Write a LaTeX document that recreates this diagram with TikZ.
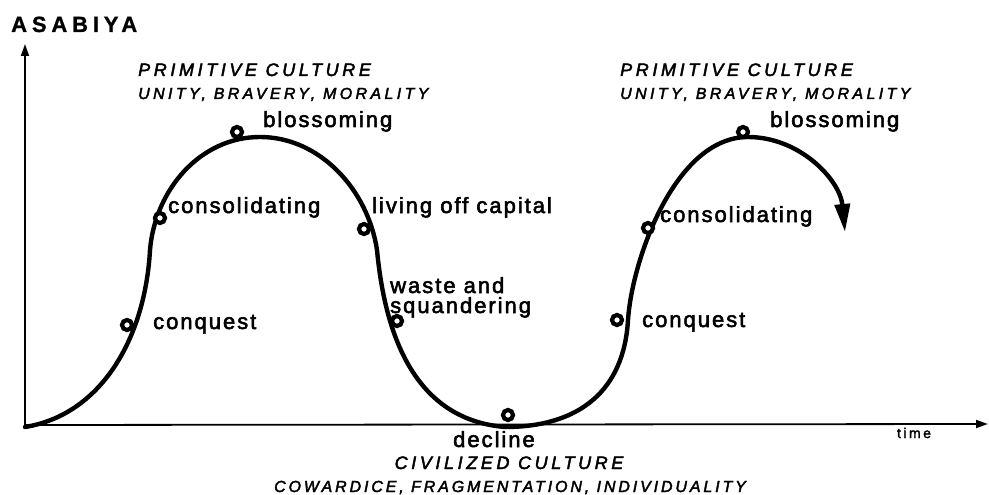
\documentclass[tikz,border=0pt]{standalone}
\usepackage{fontspec}
\setmainfont{Liberation Sans}
\newfontfamily\labf[LetterSpace=9,FakeBold=2.5]{Liberation Sans}
\newfontfamily\capf[LetterSpace=20,FakeBold=2.5]{Liberation Sans}
\newfontfamily\subf[LetterSpace=21,FakeBold=2.5]{Liberation Sans}
\newfontfamily\cowf[LetterSpace=18,FakeBold=2.5]{Liberation Sans}
\newfontfamily\titf[LetterSpace=22,FakeBold=1]{Liberation Sans}
\newfontfamily\timf[LetterSpace=18,FakeBold=2]{Liberation Sans}
\usetikzlibrary{arrows.meta}
\begin{document}
\begin{tikzpicture}[x=1pt,y=-1pt,
  lab/.style={anchor=base west, inner sep=0pt, font=\labf\fontsize{22}{25}\selectfont},
  labc/.style={anchor=base, inner sep=0pt, font=\labf\fontsize{22}{25}\selectfont},
  head/.style={anchor=base west, inner sep=0pt, font=\capf\itshape\fontsize{18}{21}\selectfont},
  headc/.style={anchor=base, inner sep=0pt, font=\capf\itshape\fontsize{18}{21}\selectfont},
  sub/.style={anchor=base west, inner sep=0pt, font=\subf\itshape\fontsize{16}{19}\selectfont},
  cow/.style={anchor=base, inner sep=0pt, font=\cowf\itshape\fontsize{16}{19}\selectfont},
  ring/.style={circle, draw, line width=4.2pt, fill=white, minimum size=10pt, inner sep=0pt},
  axis/.style={line width=1.8pt, -{Triangle[length=12pt,width=8pt]}},
  wave/.style={line width=4.4pt, line cap=round}
]
\useasboundingbox (0,0) rectangle (989,495);

% axes
\coordinate (O) at (25,425);
\coordinate (Ytop) at (25,44);
\coordinate (Xend) at (988,424);
\draw[axis] (O) -- (Ytop);
\draw[axis] (O) -- (Xend);

% curve
\coordinate (s0) at (25,427);
\coordinate (s1) at (150,250);
\coordinate (s2) at (260,137);
\coordinate (s3) at (377,250);
\coordinate (s4) at (505,427);
\coordinate (s5) at (628,320);
\coordinate (s6) at (748,137);
\coordinate (s7) at (845,232);
\draw[wave] (s0) .. controls (100,415) and (145,340) .. (s1)
  .. controls (155,190) and (200,137) .. (s2)
  .. controls (320,137) and (368,190) .. (s3)
  .. controls (386,345) and (420,420) .. (s4)
  .. controls (580,427) and (624,390) .. (s5)
  .. controls (632,260) and (675,137) .. (s6);
\draw[wave, -{Triangle[length=28pt,width=15pt]}] (s6) .. controls (800,137) and (840,180) .. (s7);

% circles
\node[ring] (c1) at (127,325) {};
\node[ring] (c2) at (160,218) {};
\node[ring] (c3) at (237,132) {};
\node[ring] (c4) at (364,229) {};
\node[ring] (c5) at (397,321) {};
\node[ring] (c6) at (508,415) {};
\node[ring] (c7) at (617,320) {};
\node[ring] (c8) at (648,228) {};
\node[ring] (c9) at (743,132) {};

% labels
\node[anchor=base west, inner sep=0pt, font=\titf\bfseries\fontsize{22}{25}\selectfont] (title) at (11,32) {ASABIYA};
\node[head] (p1) at (138,76) {PRIMITIVE CULTURE};
\node[sub] (u1) at (138,99) {UNITY, BRAVERY, MORALITY};
\node[head] (p2) at (620,76) {PRIMITIVE CULTURE};
\node[sub] (u2) at (620,99) {UNITY, BRAVERY, MORALITY};
\node[lab] (l3) at (263,127) {blossoming};
\node[lab] (l2) at (168,213) {consolidating};
\node[lab] (l4) at (372,213) {living off capital};
\node[lab] (l5) at (390,293) {\vtop{\baselineskip=20pt\hbox{waste and}\hbox{squandering}}};
\node[lab] (l1) at (153,329) {conquest};
\node[labc] (l6) at (494,447) {decline};
\node[headc] (civ) at (509,469) {CIVILIZED CULTURE};
\node[cow] (cowd) at (510,492) {COWARDICE, FRAGMENTATION, INDIVIDUALITY};
\node[lab] (l7) at (642,327) {conquest};
\node[lab] (l8) at (660,222) {consolidating};
\node[lab] (l9) at (770,127) {blossoming};
\node[anchor=base, inner sep=0pt, font=\timf\fontsize{14}{16}\selectfont] (time) at (914,438) {time};
\end{tikzpicture}
\end{document}
